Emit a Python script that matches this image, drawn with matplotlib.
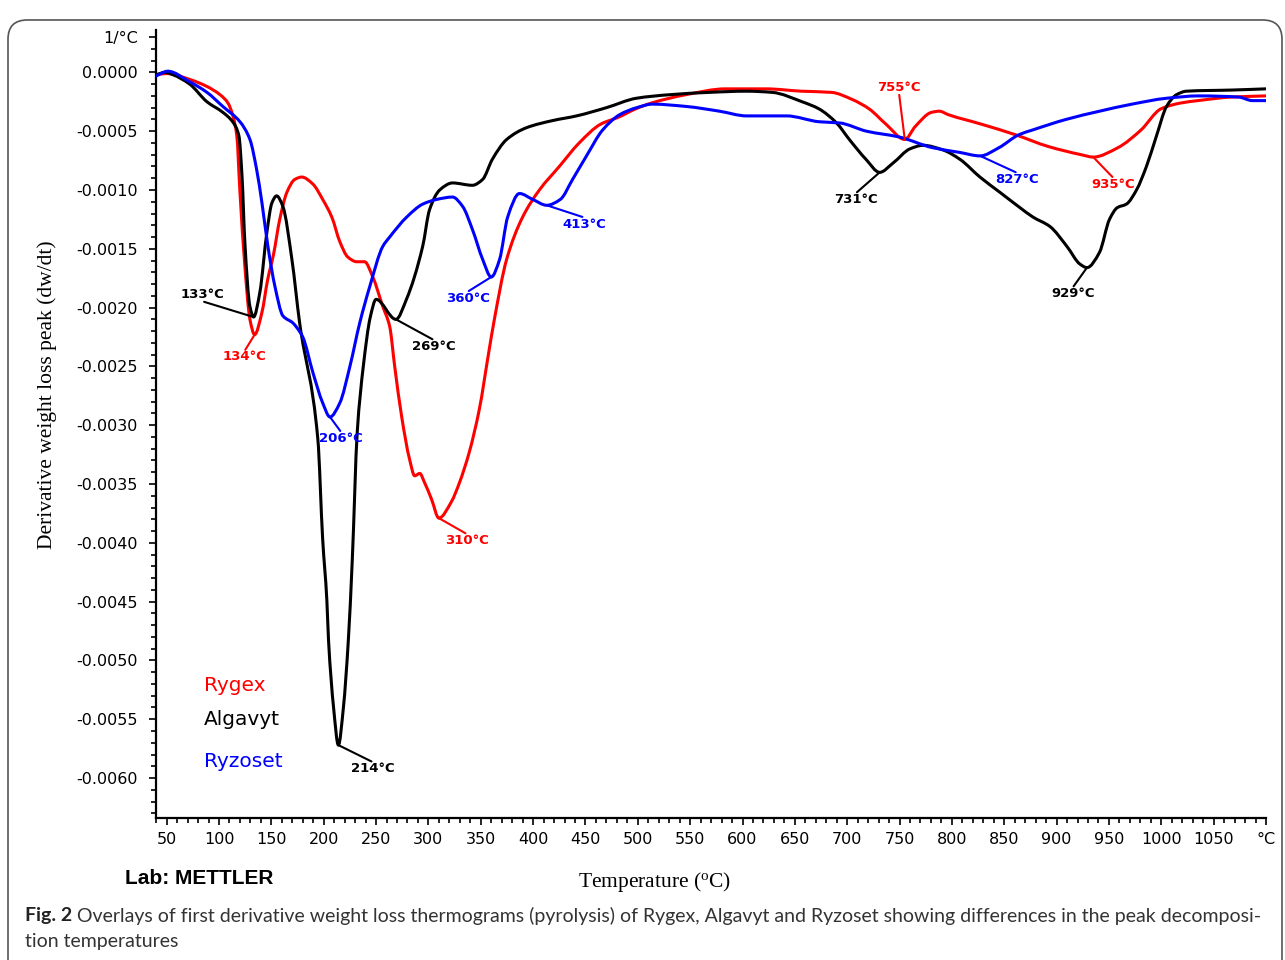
import numpy as np
import matplotlib.pyplot as plt
from matplotlib.patches import FancyBboxPatch, PathPatch
from matplotlib.path import Path
from matplotlib.ticker import FixedLocator, MultipleLocator

# DTG curves, temperature in °C, derivative weight loss in 1/°C
rygex_t = [40, 50, 72, 88.5, 101, 108.5, 113.3, 117, 120, 124.7, 129.5, 134, 141, 146.5,
           152, 158, 164.8, 172.4, 179, 189.7, 199, 207.7, 215.4, 223, 231.6, 239, 246.9,
           256.4, 263, 267.8, 274.5, 282, 286.9, 291.7, 296.4, 303, 310, 322, 329.6, 339,
           348.5, 358, 363, 374.7, 390, 406, 425, 444, 464.6, 481.8, 498, 513.3, 545.7,
           583.9, 622, 656.5, 685, 704.7, 720.9, 737, 755, 765, 780.5, 788, 796.7, 828,
           860.6, 892, 923.5, 935, 958.6, 980.6, 999.7, 1018.8, 1035, 1066.5, 1100]
rygex_v = [-0.00002, -0.00001, -0.00006, -0.00012, -0.00019, -0.00026, -0.00037, -0.00054,
           -0.00102, -0.00165, -0.00210, -0.00223, -0.00204, -0.00176, -0.00155, -0.00125,
           -0.00102, -0.00091, -0.00089, -0.00095, -0.00108, -0.00123, -0.00144, -0.00157,
           -0.00161, -0.00161, -0.00174, -0.00199, -0.00216, -0.00250, -0.00293, -0.00329,
           -0.00343, -0.00341, -0.00349, -0.00363, -0.00379, -0.00365, -0.00349, -0.00323,
           -0.00287, -0.00236, -0.00210, -0.00159, -0.00123, -0.00100, -0.00080, -0.00060,
           -0.00044, -0.00038, -0.00031, -0.00026, -0.00019, -0.00014, -0.00014, -0.00016,
           -0.00017, -0.00023, -0.00031, -0.00044, -0.00057, -0.00046, -0.00034, -0.00033,
           -0.00036, -0.00044, -0.00053, -0.00063, -0.00070, -0.00072, -0.00064, -0.00049,
           -0.00031, -0.00026, -0.00024, -0.00021, -0.00020]

algavyt_t = [40, 48.4, 56, 72, 88.5, 103.7, 113, 119, 122, 124.7, 129.5, 133, 139, 145.7,
             150.5, 155, 161, 169.6, 177, 194.4, 199, 203, 204.6, 209.4, 214, 218.8, 223.5,
             227.3, 232, 237.8, 244.5, 250, 269, 279, 294.5, 301, 310.8, 323, 342, 351.8,
             361, 374.8, 393.8, 418.5, 441.5, 470, 498.6, 530, 568, 603.6, 628.4, 657, 673,
             689.8, 702, 718, 731, 743.9, 760, 772.5, 791.6, 807.8, 826.8, 845.9, 865,
             877.4, 893.6, 909.9, 922.3, 929, 941, 950.5, 958, 966.7, 976.3, 985.8, 995.4,
             1005, 1014.5, 1024, 1068, 1100]
algavyt_v = [-0.00002, 0.0, -0.00002, -0.00010, -0.00025, -0.00034, -0.00042, -0.00054,
             -0.00089, -0.00145, -0.00199, -0.00208, -0.00187, -0.00136, -0.00111, -0.00105,
             -0.00114, -0.00159, -0.00213, -0.00312, -0.00397, -0.00449, -0.00483, -0.00540,
             -0.00572, -0.00540, -0.00483, -0.00414, -0.00306, -0.00250, -0.00208, -0.00193,
             -0.00210, -0.00193, -0.00148, -0.00117, -0.00100, -0.00094, -0.00096, -0.00091,
             -0.00074, -0.00057, -0.00047, -0.00041, -0.00037, -0.00030, -0.00022, -0.00019,
             -0.00017, -0.00016, -0.00017, -0.00025, -0.00031, -0.00043, -0.00057, -0.00074,
             -0.00085, -0.00077, -0.00065, -0.00062, -0.00066, -0.00074, -0.00089, -0.00102,
             -0.00115, -0.00123, -0.00131, -0.00148, -0.00163, -0.00166, -0.00153, -0.00125,
             -0.00115, -0.00112, -0.00100, -0.00080, -0.00054, -0.00029, -0.00019, -0.00016,
             -0.00015, -0.00014]

ryzoset_t = [40, 51, 72, 88.5, 103.7, 120, 129.5, 136, 141, 146.7, 153.4, 161, 170.5, 174.3,
             180, 189.6, 199, 206, 215.4, 225, 234.4, 244, 256.4, 263, 279.3, 294.6, 308,
             323, 332.7, 342.2, 351.8, 360, 368, 375.7, 387, 399.6, 413, 426, 437.7, 451,
             466.4, 482.6, 498.9, 514, 546.5, 578, 604, 642, 673.5, 692.7, 718.4, 750,
             781.4, 807.2, 827, 845, 864, 877, 909, 941, 972, 1005, 1036, 1074, 1087, 1100]
ryzoset_v = [-0.00003, 0.00001, -0.00008, -0.00017, -0.00029, -0.00042, -0.00057, -0.00083,
             -0.00111, -0.00148, -0.00182, -0.00207, -0.00213, -0.00217, -0.00225, -0.00255,
             -0.00281, -0.00293, -0.00281, -0.00250, -0.00213, -0.00182, -0.00148, -0.00140,
             -0.00123, -0.00112, -0.00108, -0.00106, -0.00114, -0.00134, -0.00159, -0.00174,
             -0.00159, -0.00123, -0.00103, -0.00108, -0.00113, -0.00108, -0.00091, -0.00071,
             -0.00049, -0.00036, -0.00030, -0.00027, -0.00029, -0.00033, -0.00037, -0.00037,
             -0.00042, -0.00043, -0.00050, -0.00055, -0.00064, -0.00068, -0.00071, -0.00064,
             -0.00053, -0.00049, -0.00040, -0.00033, -0.00027, -0.00022, -0.00020, -0.00021,
             -0.00024, -0.00024]

series = {
    "Rygex": (rygex_t, rygex_v, "#ff0000"),
    "Algavyt": (algavyt_t, algavyt_v, "#000000"),
    "Ryzoset": (ryzoset_t, ryzoset_v, "#0000ff"),
}

# peak labels: series, peak temperature, label position (T, value), label above the peak?
peaks = [
    ("Algavyt", 133, 83.7, -0.00189, True),
    ("Rygex", 134, 124.7, -0.00242, False),
    ("Ryzoset", 206, 216.3, -0.00311, False),
    ("Algavyt", 214, 246.9, -0.00592, False),
    ("Algavyt", 269, 305.0, -0.00233, False),
    ("Rygex", 310, 336.5, -0.00398, False),
    ("Ryzoset", 360, 337.5, -0.00192, False),
    ("Ryzoset", 413, 449.0, -0.00129, False),
    ("Algavyt", 731, 708.6, -0.00108, False),
    ("Rygex", 755, 749.6, -0.00013, True),
    ("Ryzoset", 827, 862.3, -0.00091, False),
    ("Algavyt", 929, 915.8, -0.00188, False),
    ("Rygex", 935, 953.9, -0.00095, False),
]

x_major = np.arange(50, 1101, 50)
x_labels = [str(t) for t in x_major[:-1]] + ["°C"]
y_major = [0.0003] + list(0.0 - np.arange(13) * 0.0005)
y_labels = ["1/°C"] + [f"{v + 0.0:.4f}" for v in y_major[1:]]


def smooth_path(t, v):
    """Cubic Bezier path through the points, with monotone (PCHIP style) tangents."""
    t = np.asarray(t, float)
    v = np.asarray(v, float)
    h = np.diff(t)
    d = np.diff(v) / h
    m = np.empty_like(v)
    m[0], m[-1] = d[0], d[-1]
    for i in range(1, len(v) - 1):
        if d[i - 1] * d[i] <= 0:
            m[i] = 0.0
        else:
            w1 = 2 * h[i] + h[i - 1]
            w2 = h[i] + 2 * h[i - 1]
            m[i] = (w1 + w2) / (w1 / d[i - 1] + w2 / d[i])
    verts = [(t[0], v[0])]
    codes = [Path.MOVETO]
    for i in range(len(t) - 1):
        k = h[i] / 3
        verts += [(t[i] + k, v[i] + k * m[i]), (t[i + 1] - k, v[i + 1] - k * m[i + 1]),
                  (t[i + 1], v[i + 1])]
        codes += [Path.CURVE4] * 3
    return Path(verts, codes)


fig = plt.figure(figsize=(12.85, 9.6), dpi=100)
ax = fig.add_axes([0.1214, 0.1479, 0.8638, 0.8208])

for name, (t, v, c) in series.items():
    ax.add_patch(PathPatch(smooth_path(t, v), fill=False, ec=c, lw=2.2,
                           joinstyle="round", capstyle="round", zorder=3))

for name, tp, tx, ty, above in peaks:
    t, v, c = series[name]
    vp = np.interp(tp, t, v)
    ax.annotate(f"{tp}°C", xy=(tp, vp), xytext=(tx, ty), ha="center", va="center",
                fontsize=9.5, fontweight="bold", color=c,
                bbox=dict(boxstyle="square,pad=0.05", fc="none", ec="none"),
                arrowprops=dict(arrowstyle="-", color=c, lw=1.5, shrinkA=0, shrinkB=0,
                                relpos=(0.5, 0.0) if above else (0.5, 1.0)),
                zorder=4)

ax.set_xlim(39.8, 1100)
ax.set_ylim(-0.00634, 0.00036)

ax.xaxis.set_major_locator(FixedLocator(x_major))
ax.set_xticklabels(x_labels)
ax.xaxis.set_minor_locator(MultipleLocator(10))
ax.yaxis.set_major_locator(FixedLocator(y_major))
ax.set_yticklabels(y_labels)
ax.yaxis.set_minor_locator(MultipleLocator(0.0001))

ax.tick_params(axis="both", which="major", length=5, width=1.2, labelsize=11.5, colors="black")
ax.tick_params(axis="both", which="minor", length=3.5, width=1.2)
ax.tick_params(axis="x", which="major", pad=5)
ax.tick_params(axis="y", which="major", pad=8)

for side in ("top", "right"):
    ax.spines[side].set_visible(False)
for side in ("left", "bottom"):
    ax.spines[side].set_linewidth(1.6)

ax.set_ylabel("Derivative weight loss peak (dw/dt)", family="Liberation Serif", fontsize=15.5)
ax.yaxis.set_label_coords(-0.089, 0.537)

# sample names in their curve colours
for ypos, (name, (_, _, c)) in zip([0.1688, 0.1244, 0.0711], series.items()):
    ax.text(0.0432, ypos, name, transform=ax.transAxes,
            fontsize=14.5, color=c, va="center", ha="left")

fig.text(655 / 1285, 1 - 882 / 960, "Temperature ($\\mathregular{^o}$C)",
         family="Liberation Serif", fontsize=15.5, ha="center", va="center")
fig.text(125 / 1285, 1 - 879 / 960, "Lab: METTLER", family="Liberation Sans",
         fontweight="bold", fontsize=15, ha="left", va="center")

# caption
fig.text(25 / 1285, 1 - 916 / 960, "Fig. 2", family="Lato", fontweight="bold",
         fontsize=14, color="#222222", ha="left", va="center")
fig.text(77 / 1285, 1 - 916 / 960,
         "Overlays of first derivative weight loss thermograms (pyrolysis) of Rygex, "
         "Algavyt and Ryzoset showing differences in the peak decomposi-",
         family="Lato", fontsize=14, color="#333333", ha="left", va="center")
fig.text(25 / 1285, 1 - 942 / 960, "tion temperatures", family="Lato", fontsize=14,
         color="#333333", ha="left", va="center")

frame = FancyBboxPatch((8 / 1285, -0.05), 1274 / 1285, 1.0396 - 10 / 960,
                       boxstyle="round,pad=0,rounding_size=0.015", transform=fig.transFigure,
                       fill=False, ec="#555555", lw=1.2, mutation_aspect=1285 / 960)
fig.patches.append(frame)

fig.savefig("out.png", dpi=100)
